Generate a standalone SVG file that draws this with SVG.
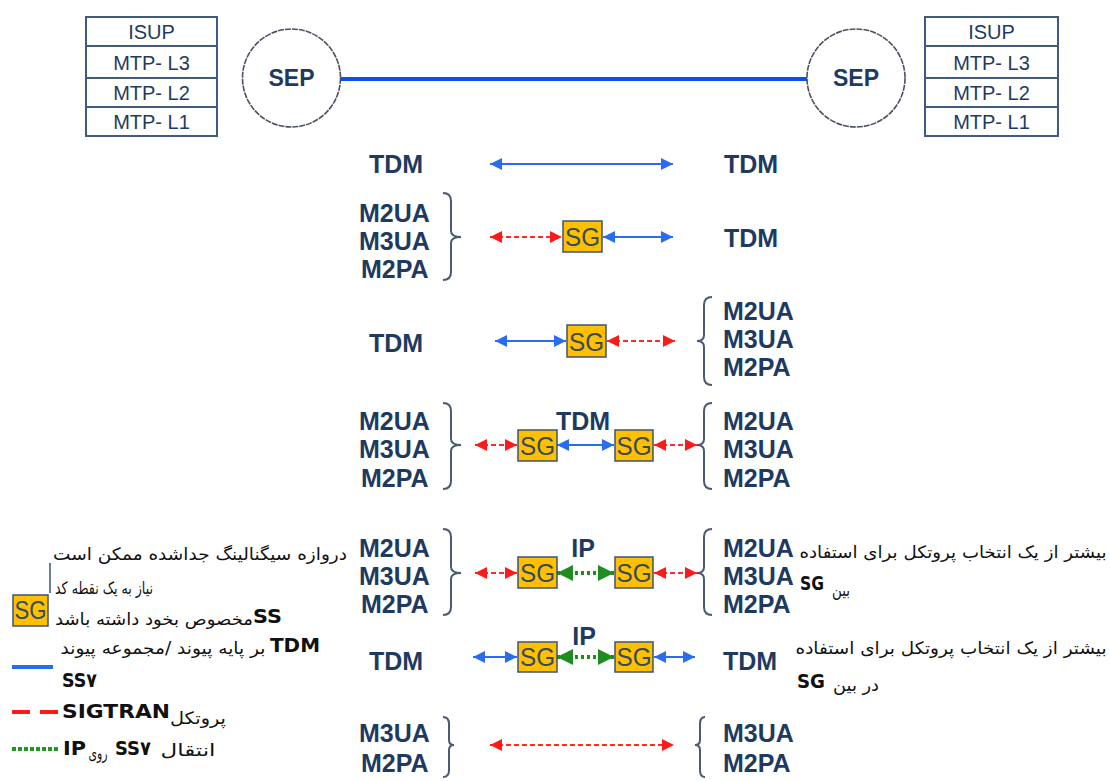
<svg xmlns="http://www.w3.org/2000/svg" width="1110" height="781" viewBox="0 0 1110 781">
  <style>
    .lbl { font-family: "Liberation Sans", Arial, sans-serif; font-weight: bold; font-size: 25px; fill: #1f3a60; }
    .stk { font-family: "Liberation Sans", Arial, sans-serif; font-size: 20px; fill: #1f3a60; text-anchor: middle; }
    .sep { font-family: "Liberation Sans", Arial, sans-serif; font-weight: bold; font-size: 23px; fill: #1f3a60; text-anchor: middle; }
    .sgt { font-family: "Liberation Sans", Arial, sans-serif; font-size: 26px; fill: #384a62; text-anchor: middle; }
    .sgb { fill: #ffc000; stroke: #3f5371; stroke-width: 1.5; }
    .stack rect, .stack line { fill: #fff; stroke: #3f5b80; stroke-width: 2; }
    .brace { fill: none; stroke: #4a5a70; stroke-width: 2; }
    .fa { font-family: "DejaVu Sans", "Noto Sans", sans-serif; font-size: 17px; fill: #111; text-anchor: middle; }
    .lat { font-family: "DejaVu Sans", "Liberation Sans", sans-serif; font-weight: bold; font-size: 20px; fill: #111; }
    .blue { fill: none; stroke: #2a6cf0; stroke-width: 2; }
    .red { fill: none; stroke: #ff2a2a; stroke-width: 2; stroke-dasharray: 5 3; }
    .green { fill: none; stroke: #1e8c1e; stroke-width: 4; stroke-dasharray: 3 3; }
  </style>
  <defs>
    <marker id="hb" viewBox="0 0 12 12" refX="12" refY="6" markerWidth="12" markerHeight="12" markerUnits="userSpaceOnUse" orient="auto-start-reverse">
      <path d="M0,0 L12,6 L0,12 Z" fill="#2a6cf0"/>
    </marker>
    <marker id="hr" viewBox="0 0 12 12" refX="12" refY="6" markerWidth="12" markerHeight="12" markerUnits="userSpaceOnUse" orient="auto-start-reverse">
      <path d="M0,0 L12,6 L0,12 Z" fill="#ff1a1a"/>
    </marker>
    <marker id="hg" viewBox="0 0 14 14" refX="14" refY="7" markerWidth="16" markerHeight="16" markerUnits="userSpaceOnUse" orient="auto-start-reverse">
      <path d="M0,0 L14,7 L0,14 Z" fill="#1e8c1e"/>
    </marker>
  </defs>

  <!-- protocol stacks -->
  <g id="stack-left" class="stack">
    <rect x="86" y="17" width="131" height="119"/>
    <line x1="86" y1="46" x2="217" y2="46"/>
    <line x1="86" y1="78" x2="217" y2="78"/>
    <line x1="86" y1="107" x2="217" y2="107"/>
    <text class="stk" x="151.5" y="39">ISUP</text>
    <text class="stk" x="151.5" y="70">MTP- L3</text>
    <text class="stk" x="151.5" y="100">MTP- L2</text>
    <text class="stk" x="151.5" y="129">MTP- L1</text>
  </g>
  <g id="stack-right" class="stack">
    <rect x="925" y="17" width="133" height="119"/>
    <line x1="925" y1="46" x2="1058" y2="46"/>
    <line x1="925" y1="78" x2="1058" y2="78"/>
    <line x1="925" y1="107" x2="1058" y2="107"/>
    <text class="stk" x="991.5" y="39">ISUP</text>
    <text class="stk" x="991.5" y="70">MTP- L3</text>
    <text class="stk" x="991.5" y="100">MTP- L2</text>
    <text class="stk" x="991.5" y="129">MTP- L1</text>
  </g>

  <g id="connectors">
    <!-- SS7 link between end points -->
    <line x1="341" y1="79" x2="807" y2="79" stroke="#0a50f0" stroke-width="4"/>
    <!-- row 1 -->
    <path class="blue" d="M490,164 L673,164" marker-start="url(#hb)" marker-end="url(#hb)"/>
    <!-- row 2 -->
    <path class="red" d="M490,237 L562,237" marker-start="url(#hr)" marker-end="url(#hr)"/>
    <path class="blue" d="M603,237 L673,237" marker-start="url(#hb)" marker-end="url(#hb)"/>
    <!-- row 3 -->
    <path class="blue" d="M495,341 L566,341" marker-start="url(#hb)" marker-end="url(#hb)"/>
    <path class="red" d="M607,341 L675,341" marker-start="url(#hr)" marker-end="url(#hr)"/>
    <!-- row 4 -->
    <path class="red" d="M475,445 L517,445" marker-start="url(#hr)" marker-end="url(#hr)"/>
    <path class="blue" d="M557,445 L614,445" marker-start="url(#hb)" marker-end="url(#hb)"/>
    <path class="red" d="M654,445 L697,445" marker-start="url(#hr)" marker-end="url(#hr)"/>
    <!-- row 5 -->
    <path class="red" d="M475,573 L517,573" marker-start="url(#hr)" marker-end="url(#hr)"/>
    <path class="green" d="M557,573 L614,573" marker-start="url(#hg)" marker-end="url(#hg)"/>
    <path class="red" d="M654,573 L697,573" marker-start="url(#hr)" marker-end="url(#hr)"/>
    <!-- row 6 -->
    <path class="blue" d="M473,657 L517,657" marker-start="url(#hb)" marker-end="url(#hb)"/>
    <path class="green" d="M557,657 L614,657" marker-start="url(#hg)" marker-end="url(#hg)"/>
    <path class="blue" d="M654,657 L695,657" marker-start="url(#hb)" marker-end="url(#hb)"/>
    <!-- row 7 -->
    <path class="red" d="M490,745 L674,745" stroke="#ff5a5a" marker-start="url(#hr)" marker-end="url(#hr)"/>
  </g>

  <!-- signalling end points -->
  <g id="sep-left">
    <circle cx="291.5" cy="78" r="49" fill="#fff" stroke="#4a5260" stroke-width="1.6" stroke-dasharray="6 1"/>
    <text class="sep" x="291.5" y="86">SEP</text>
  </g>
  <g id="sep-right">
    <circle cx="856" cy="78" r="49" fill="#fff" stroke="#4a5260" stroke-width="1.6" stroke-dasharray="6 1"/>
    <text class="sep" x="856" y="86">SEP</text>
  </g>

  <!-- row 1: TDM - TDM -->
  <g id="row1">
    <text class="lbl" x="369" y="173">TDM</text>
    <text class="lbl" x="724" y="173">TDM</text>
  </g>

  <!-- row 2: SIGTRAN - SG - TDM -->
  <g id="row2">
    <text class="lbl" x="359" y="222">M2UA</text>
    <text class="lbl" x="359" y="250">M3UA</text>
    <text class="lbl" x="361" y="278">M2PA</text>
    <path class="brace" d="M443,193 Q451,193 451,201 L451,231 Q451,237 461,237 Q451,237 451,243 L451,272 Q451,280 443,280"/>
    <rect class="sgb" x="563" y="221" width="39" height="31"/>
    <text class="sgt" x="582.5" y="246" textLength="35" lengthAdjust="spacingAndGlyphs">SG</text>
    <text class="lbl" x="724" y="247">TDM</text>
  </g>

  <!-- row 3: TDM - SG - SIGTRAN -->
  <g id="row3">
    <text class="lbl" x="369" y="352">TDM</text>
    <rect class="sgb" x="567" y="325" width="39" height="32"/>
    <text class="sgt" x="586.5" y="351" textLength="35" lengthAdjust="spacingAndGlyphs">SG</text>
    <path class="brace" d="M712,297 Q704,297 704,305 L704,335 Q704,341 697,341 Q704,341 704,347 L704,377 Q704,385 712,385"/>
    <text class="lbl" x="723" y="320">M2UA</text>
    <text class="lbl" x="723" y="348">M3UA</text>
    <text class="lbl" x="723" y="376">M2PA</text>
  </g>

  <!-- row 4: SIGTRAN - SG - TDM - SG - SIGTRAN -->
  <g id="row4">
    <text class="lbl" x="359" y="430">M2UA</text>
    <text class="lbl" x="359" y="458">M3UA</text>
    <text class="lbl" x="361" y="487">M2PA</text>
    <path class="brace" d="M443,403 Q451,403 451,411 L451,439 Q451,445 461,445 Q451,445 451,451 L451,481 Q451,489 443,489"/>
    <text class="lbl" x="583" y="430" text-anchor="middle">TDM</text>
    <rect class="sgb" x="518" y="430" width="39" height="31"/>
    <text class="sgt" x="537.5" y="455" textLength="35" lengthAdjust="spacingAndGlyphs">SG</text>
    <rect class="sgb" x="615" y="430" width="38" height="31"/>
    <text class="sgt" x="634" y="455" textLength="35" lengthAdjust="spacingAndGlyphs">SG</text>
    <path class="brace" d="M712,403 Q704,403 704,411 L704,439 Q704,445 697,445 Q704,445 704,451 L704,481 Q704,489 712,489"/>
    <text class="lbl" x="723" y="430">M2UA</text>
    <text class="lbl" x="723" y="458">M3UA</text>
    <text class="lbl" x="723" y="487">M2PA</text>
  </g>

  <!-- row 5: SIGTRAN - SG - IP - SG - SIGTRAN -->
  <g id="row5">
    <text class="lbl" x="359" y="557">M2UA</text>
    <text class="lbl" x="359" y="585">M3UA</text>
    <text class="lbl" x="361" y="613">M2PA</text>
    <path class="brace" d="M443,529 Q451,529 451,537 L451,567 Q451,573 461,573 Q451,573 451,579 L451,607 Q451,615 443,615"/>
    <text class="lbl" x="583" y="557" text-anchor="middle">IP</text>
    <rect class="sgb" x="518" y="557" width="39" height="31"/>
    <text class="sgt" x="537.5" y="582" textLength="35" lengthAdjust="spacingAndGlyphs">SG</text>
    <rect class="sgb" x="615" y="557" width="38" height="31"/>
    <text class="sgt" x="634" y="582" textLength="35" lengthAdjust="spacingAndGlyphs">SG</text>
    <path class="brace" d="M712,529 Q704,529 704,537 L704,567 Q704,573 697,573 Q704,573 704,579 L704,607 Q704,615 712,615"/>
    <text class="lbl" x="723" y="557">M2UA</text>
    <text class="lbl" x="723" y="585">M3UA</text>
    <text class="lbl" x="723" y="613">M2PA</text>
    <text class="fa" x="953" y="558" textLength="307" lengthAdjust="spacingAndGlyphs">بیشتر از یک انتخاب پروتکل برای استفاده</text>
    <text class="lat" x="800" y="590" font-size="17" textLength="24" lengthAdjust="spacingAndGlyphs">SG</text>
    <text class="fa" x="841" y="596" textLength="18" lengthAdjust="spacingAndGlyphs">بین</text>
  </g>

  <!-- row 6: TDM - SG - IP - SG - TDM -->
  <g id="row6">
    <text class="lbl" x="369" y="670">TDM</text>
    <text class="lbl" x="584" y="645" text-anchor="middle">IP</text>
    <rect class="sgb" x="518" y="642" width="39" height="30"/>
    <text class="sgt" x="537.5" y="666" textLength="35" lengthAdjust="spacingAndGlyphs">SG</text>
    <rect class="sgb" x="615" y="642" width="38" height="30"/>
    <text class="sgt" x="634" y="666" textLength="35" lengthAdjust="spacingAndGlyphs">SG</text>
    <text class="lbl" x="723" y="670">TDM</text>
    <text class="fa" x="951" y="654" textLength="311" lengthAdjust="spacingAndGlyphs">بیشتر از یک انتخاب پروتکل برای استفاده</text>
    <text class="lat" x="797" y="688" font-size="19" textLength="28" lengthAdjust="spacingAndGlyphs">SG</text>
    <text class="fa" x="856" y="691" textLength="46" lengthAdjust="spacingAndGlyphs">در بین</text>
  </g>

  <!-- row 7: SIGTRAN - SIGTRAN -->
  <g id="row7">
    <text class="lbl" x="359" y="742">M3UA</text>
    <text class="lbl" x="361" y="772">M2PA</text>
    <path class="brace" d="M443,717 Q449,717 449,724 L449,740 Q449,745 454,745 Q449,745 449,750 L449,770 Q449,777 443,777"/>
    <path class="brace" d="M705,717 Q700,717 700,724 L700,740 Q700,745 695,745 Q700,745 700,750 L700,770 Q700,777 705,777"/>
    <text class="lbl" x="723" y="742">M3UA</text>
    <text class="lbl" x="723" y="772">M2PA</text>
  </g>

  <!-- legend -->
  <g id="legend">
    <text class="fa" x="200" y="560" textLength="294" lengthAdjust="spacingAndGlyphs">دروازه سیگنالینگ جداشده ممکن است</text>
    <polyline points="50,563 50,593" fill="none" stroke="#41546c" stroke-width="1.5"/>
    <text class="fa" x="104" y="594" textLength="98" lengthAdjust="spacingAndGlyphs">نیاز به یک نقطه کد</text>
    <rect class="sgb" x="13" y="595" width="35" height="31"/>
    <text class="sgt" x="30.5" y="619" font-size="24" textLength="32" lengthAdjust="spacingAndGlyphs">SG</text>
    <text class="lat" x="253" y="623" textLength="29" lengthAdjust="spacingAndGlyphs">SS</text>
    <text class="fa" x="154" y="625" textLength="198" lengthAdjust="spacingAndGlyphs">مخصوص بخود داشته باشد</text>
    <text class="lat" x="270" y="652" textLength="50" lengthAdjust="spacingAndGlyphs">TDM</text>
    <text class="fa" x="163" y="654" textLength="205" lengthAdjust="spacingAndGlyphs">بر پایه پیوند /مجموعه پیوند</text>
    <line x1="12" y1="667" x2="53" y2="667" stroke="#2a6cf0" stroke-width="4"/>
    <text class="lat" x="62" y="687" textLength="35" lengthAdjust="spacingAndGlyphs">SS۷</text>
    <line x1="12" y1="712" x2="60" y2="712" stroke="#ff1a1a" stroke-width="4" stroke-dasharray="18 10"/>
    <text class="lat" x="62" y="718" textLength="108" lengthAdjust="spacingAndGlyphs">SIGTRAN</text>
    <text class="fa" x="198" y="724" textLength="56" lengthAdjust="spacingAndGlyphs">پروتکل</text>
    <line x1="12" y1="749" x2="58" y2="749" stroke="#1e9a1e" stroke-width="4" stroke-dasharray="4 2"/>
    <text class="lat" x="63" y="755" textLength="23" lengthAdjust="spacingAndGlyphs">IP</text>
    <text class="fa" x="98" y="759" textLength="19" lengthAdjust="spacingAndGlyphs">روی</text>
    <text class="lat" x="115" y="755" textLength="36" lengthAdjust="spacingAndGlyphs">SS۷</text>
    <text class="fa" x="188" y="756" textLength="55" lengthAdjust="spacingAndGlyphs">انتقال</text>
  </g>
</svg>
